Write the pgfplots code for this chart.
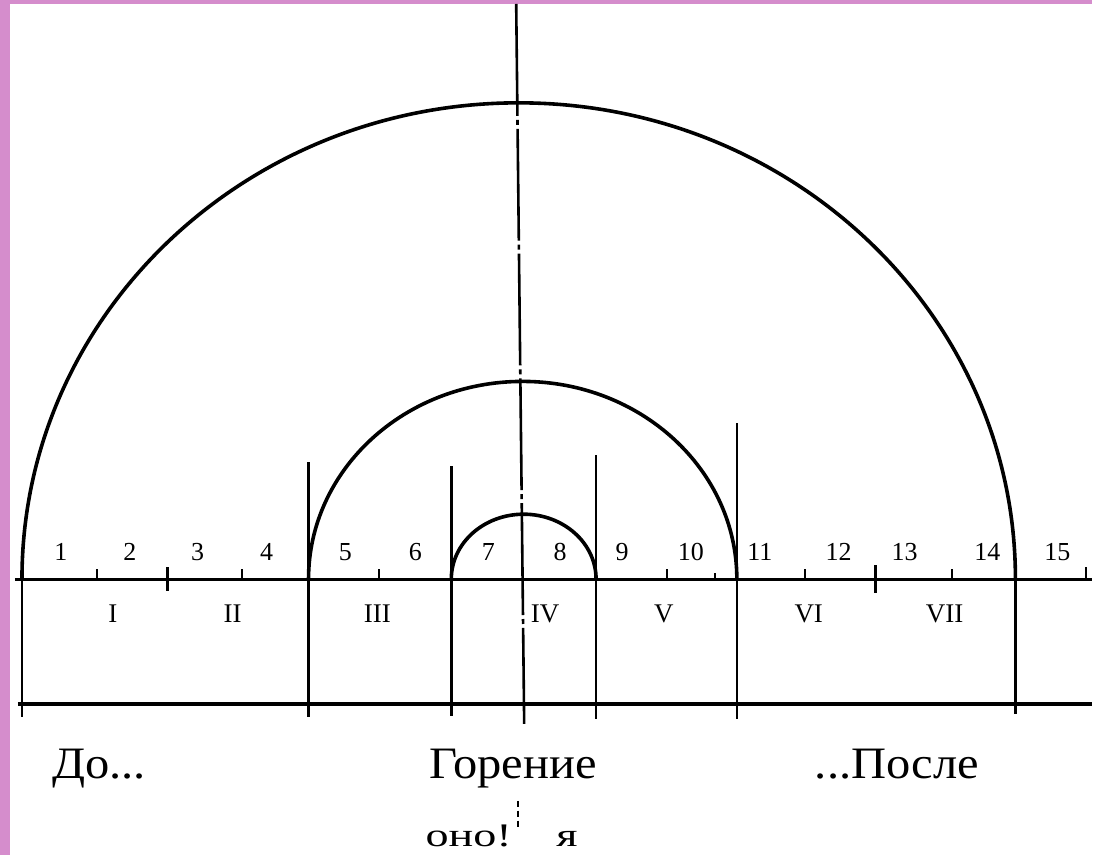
\documentclass[border=0pt]{standalone}
\usepackage{pgfplots}
\pgfplotsset{compat=1.18}
\usepackage{fontspec}
\setmainfont{Liberation Serif}
\definecolor{pinkc}{RGB}{213,141,204}
\begin{document}
\begin{tikzpicture}
\begin{axis}[scale only axis, width=1094pt, height=856pt,
  xmin=0, xmax=1094, ymin=0, ymax=856, y dir=reverse,
  hide axis, clip=false]
\fill[pinkc] (axis cs:0,0) rectangle (axis cs:1094,856);
\fill[white] (axis cs:10,4) rectangle (axis cs:1094,856);
% arcs
\draw[line width=3.6pt] (axis cs:22,580) arc[start angle=180,end angle=0,x radius=497.5pt,y radius=477pt];
\draw[line width=3.6pt] (axis cs:309,580) arc[start angle=180,end angle=0,x radius=214.5pt,y radius=198pt];
\draw[line width=3.6pt] (axis cs:452,580) arc[start angle=180,end angle=0,x radius=72.5pt,y radius=65pt];
% horizontal lines
\addplot[line width=3pt] coordinates {(15,580) (1094,580)};
\addplot[line width=3.4pt] coordinates {(18,705) (1094,705)};
% vertical lines
\addplot[line width=2.8pt] coordinates {(22,580) (22,718)};
\addplot[line width=2.6pt] coordinates {(309,463) (309,718)};
\addplot[line width=2.6pt] coordinates {(452,467) (452,717)};
\addplot[line width=2.6pt] coordinates {(597,456) (597,720)};
\addplot[line width=2.6pt] coordinates {(738,424) (738,720)};
\addplot[line width=2.8pt] coordinates {(1017,580) (1017,715)};
% centre line
\addplot[line width=2.6pt, dash pattern=on 112pt off 4pt on 5pt off 4pt] coordinates {(517,4) (525,725)};
\addplot[line width=2pt, dash pattern=on 6pt off 4pt] coordinates {(519,802) (519,828)};
% ticks
\addplot[line width=2pt] coordinates {(97,580) (97,570)};
\addplot[line width=2pt] coordinates {(242,580) (242,570)};
\addplot[line width=2pt] coordinates {(380,580) (380,570)};
\addplot[line width=2pt] coordinates {(668,580) (668,570)};
\addplot[line width=1.6pt] coordinates {(716,580) (716,574)};
\addplot[line width=2pt] coordinates {(806,580) (806,570)};
\addplot[line width=2pt] coordinates {(953,580) (953,570)};
\addplot[line width=2pt] coordinates {(1088,580) (1088,568)};
\addplot[line width=2.6pt] coordinates {(168,568) (168,592)};
\addplot[line width=2.6pt] coordinates {(877,566) (877,594)};
% digit labels
\begin{scope}[every node/.style={font=\fontsize{26}{30}\selectfont, inner sep=0pt}]
\node at (axis cs:61,553) {1};
\node at (axis cs:130,553) {2};
\node at (axis cs:198,553) {3};
\node at (axis cs:267,553) {4};
\node at (axis cs:346,553) {5};
\node at (axis cs:416,553) {6};
\node at (axis cs:489,553) {7};
\node at (axis cs:561,553) {8};
\node at (axis cs:623,553) {9};
\node at (axis cs:692,553) {10};
\node at (axis cs:761,553) {11};
\node at (axis cs:840,553) {12};
\node at (axis cs:906,553) {13};
\node at (axis cs:989,553) {14};
\node at (axis cs:1059,553) {15};
\end{scope}
\begin{scope}[every node/.style={font=\fontsize{27}{30}\selectfont, inner sep=0pt}]
\node at (axis cs:113,615) {I};
\node at (axis cs:233,615) {II};
\node at (axis cs:378,615) {III};
\node at (axis cs:546,615) {IV};
\node at (axis cs:665,615) {V};
\node at (axis cs:810,615) {VI};
\node at (axis cs:946,615) {VII};
\end{scope}
\begin{scope}[every node/.style={font=\fontsize{45}{50}\selectfont, inner sep=0pt, anchor=base west, xscale=1.08}]
\node at (axis cs:52,780) {До...};
\node at (axis cs:430,780) {Горение};
\node at (axis cs:816,780) {...После};
\end{scope}
\begin{scope}[every node/.style={font=\fontsize{33}{38}\selectfont, inner sep=0pt, anchor=base west, xscale=1.4}]
\node at (axis cs:426,848) {оно!};
\node at (axis cs:557,848) {я};
\end{scope}
\end{axis}
\end{tikzpicture}
\end{document}
